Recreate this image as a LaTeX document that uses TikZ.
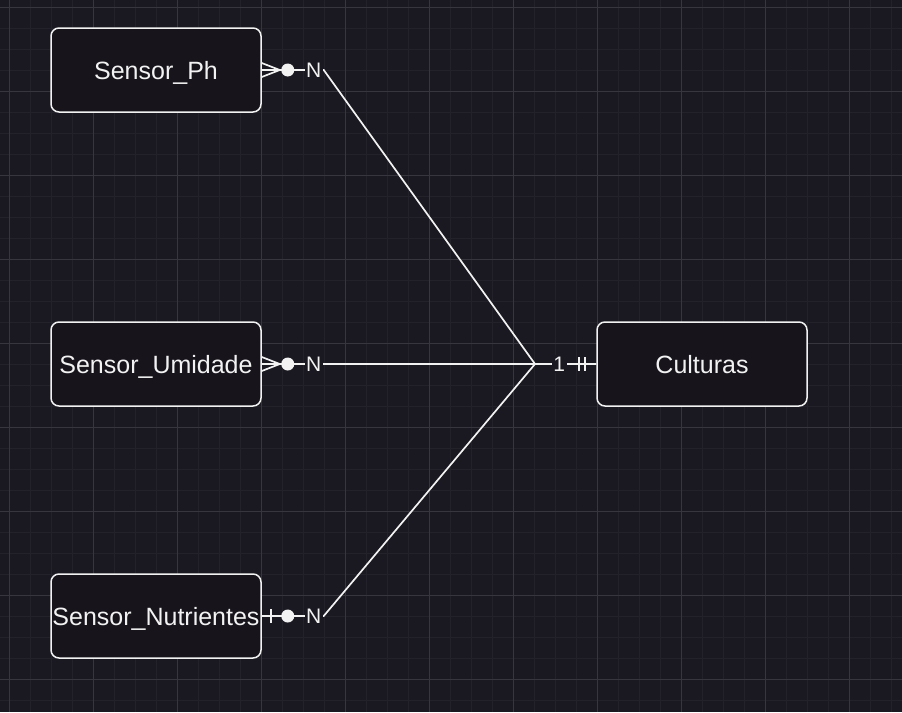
\documentclass[tikz,border=0pt]{standalone}
\usepackage{fontspec}
\setmainfont{Liberation Sans}
\usetikzlibrary{positioning, calc}
\definecolor{darkbg}{HTML}{1A1820}
\definecolor{boxfill}{HTML}{17141C}
\definecolor{gridminor}{HTML}{23212A}
\definecolor{gridmajor}{HTML}{37353E}
\definecolor{linewhite}{HTML}{F2F2F2}

\begin{document}
\begin{tikzpicture}[x=1pt, y=-1pt]
  \tikzstyle{entity} = [rectangle, draw=linewhite, line width=1.5pt, fill=boxfill, text=linewhite, rounded corners=8pt, minimum width=210pt, minimum height=84pt, inner sep=0pt, text height=18pt, text depth=0pt, font=\fontsize{25}{30}\selectfont]
  \tikzstyle{rel} = [line width=1.7pt, draw=linewhite]
  \tikzstyle{card} = [fill=darkbg, text=linewhite, inner sep=1.5pt, text height=15pt, text depth=0pt, font=\fontsize{21}{25}\selectfont]

  % background and grid
  \fill [darkbg] (0,0) rectangle (902,712);
  \useasboundingbox (0,0) rectangle (902,712);
  \foreach \x in {9,30,...,891} \draw [gridminor, line width=1pt] (\x,0) -- (\x,712);
  \foreach \y in {7,28,...,700} \draw [gridminor, line width=1pt] (0,\y) -- (902,\y);
  \foreach \x in {9,93,...,849} \draw [gridmajor, line width=1pt] (\x,0) -- (\x,712);
  \foreach \y in {7,91,...,679} \draw [gridmajor, line width=1pt] (0,\y) -- (902,\y);

  % entities
  \node (ph) [entity] at (156,70) {Sensor\_Ph};
  \node (umid) [entity] at (156,364) {Sensor\_Umidade};
  \node (nutr) [entity] at (156,616) {Sensor\_Nutrientes};
  \node (cult) [entity] at (702,364) {Culturas};
  \coordinate (joint) at (535,364);

  % relations
  \draw [rel] (ph.east) -- ++(62,0) -- (joint) -- (cult.west);
  \draw [rel] (umid.east) -- (cult.west);
  \draw [rel] (nutr.east) -- ++(62,0) -- (joint);

  % zero or many
  \draw [rel] ([yshift=7pt]ph.east) -- ([xshift=18pt]ph.east) -- ([yshift=-7pt]ph.east);
  \fill [linewhite] ([xshift=26pt]ph.east) circle (6.5pt);
  \node (phcard) [card] at ([xshift=52pt]ph.east) {N};

  \draw [rel] ([yshift=7pt]umid.east) -- ([xshift=18pt]umid.east) -- ([yshift=-7pt]umid.east);
  \fill [linewhite] ([xshift=26pt]umid.east) circle (6.5pt);
  \node (umidcard) [card] at ([xshift=52pt]umid.east) {N};

  % zero or one
  \draw [rel] ([xshift=9pt, yshift=7pt]nutr.east) -- ([xshift=9pt, yshift=-7pt]nutr.east);
  \fill [linewhite] ([xshift=26pt]nutr.east) circle (6.5pt);
  \node (nutrcard) [card] at ([xshift=52pt]nutr.east) {N};

  % exactly one
  \draw [rel] ([xshift=-17pt, yshift=7pt]cult.west) -- ([xshift=-17pt, yshift=-7pt]cult.west);
  \draw [rel] ([xshift=-11pt, yshift=7pt]cult.west) -- ([xshift=-11pt, yshift=-7pt]cult.west);
  \node (cultcard) [card] at ([xshift=-37pt]cult.west) {1};
\end{tikzpicture}
\end{document}
